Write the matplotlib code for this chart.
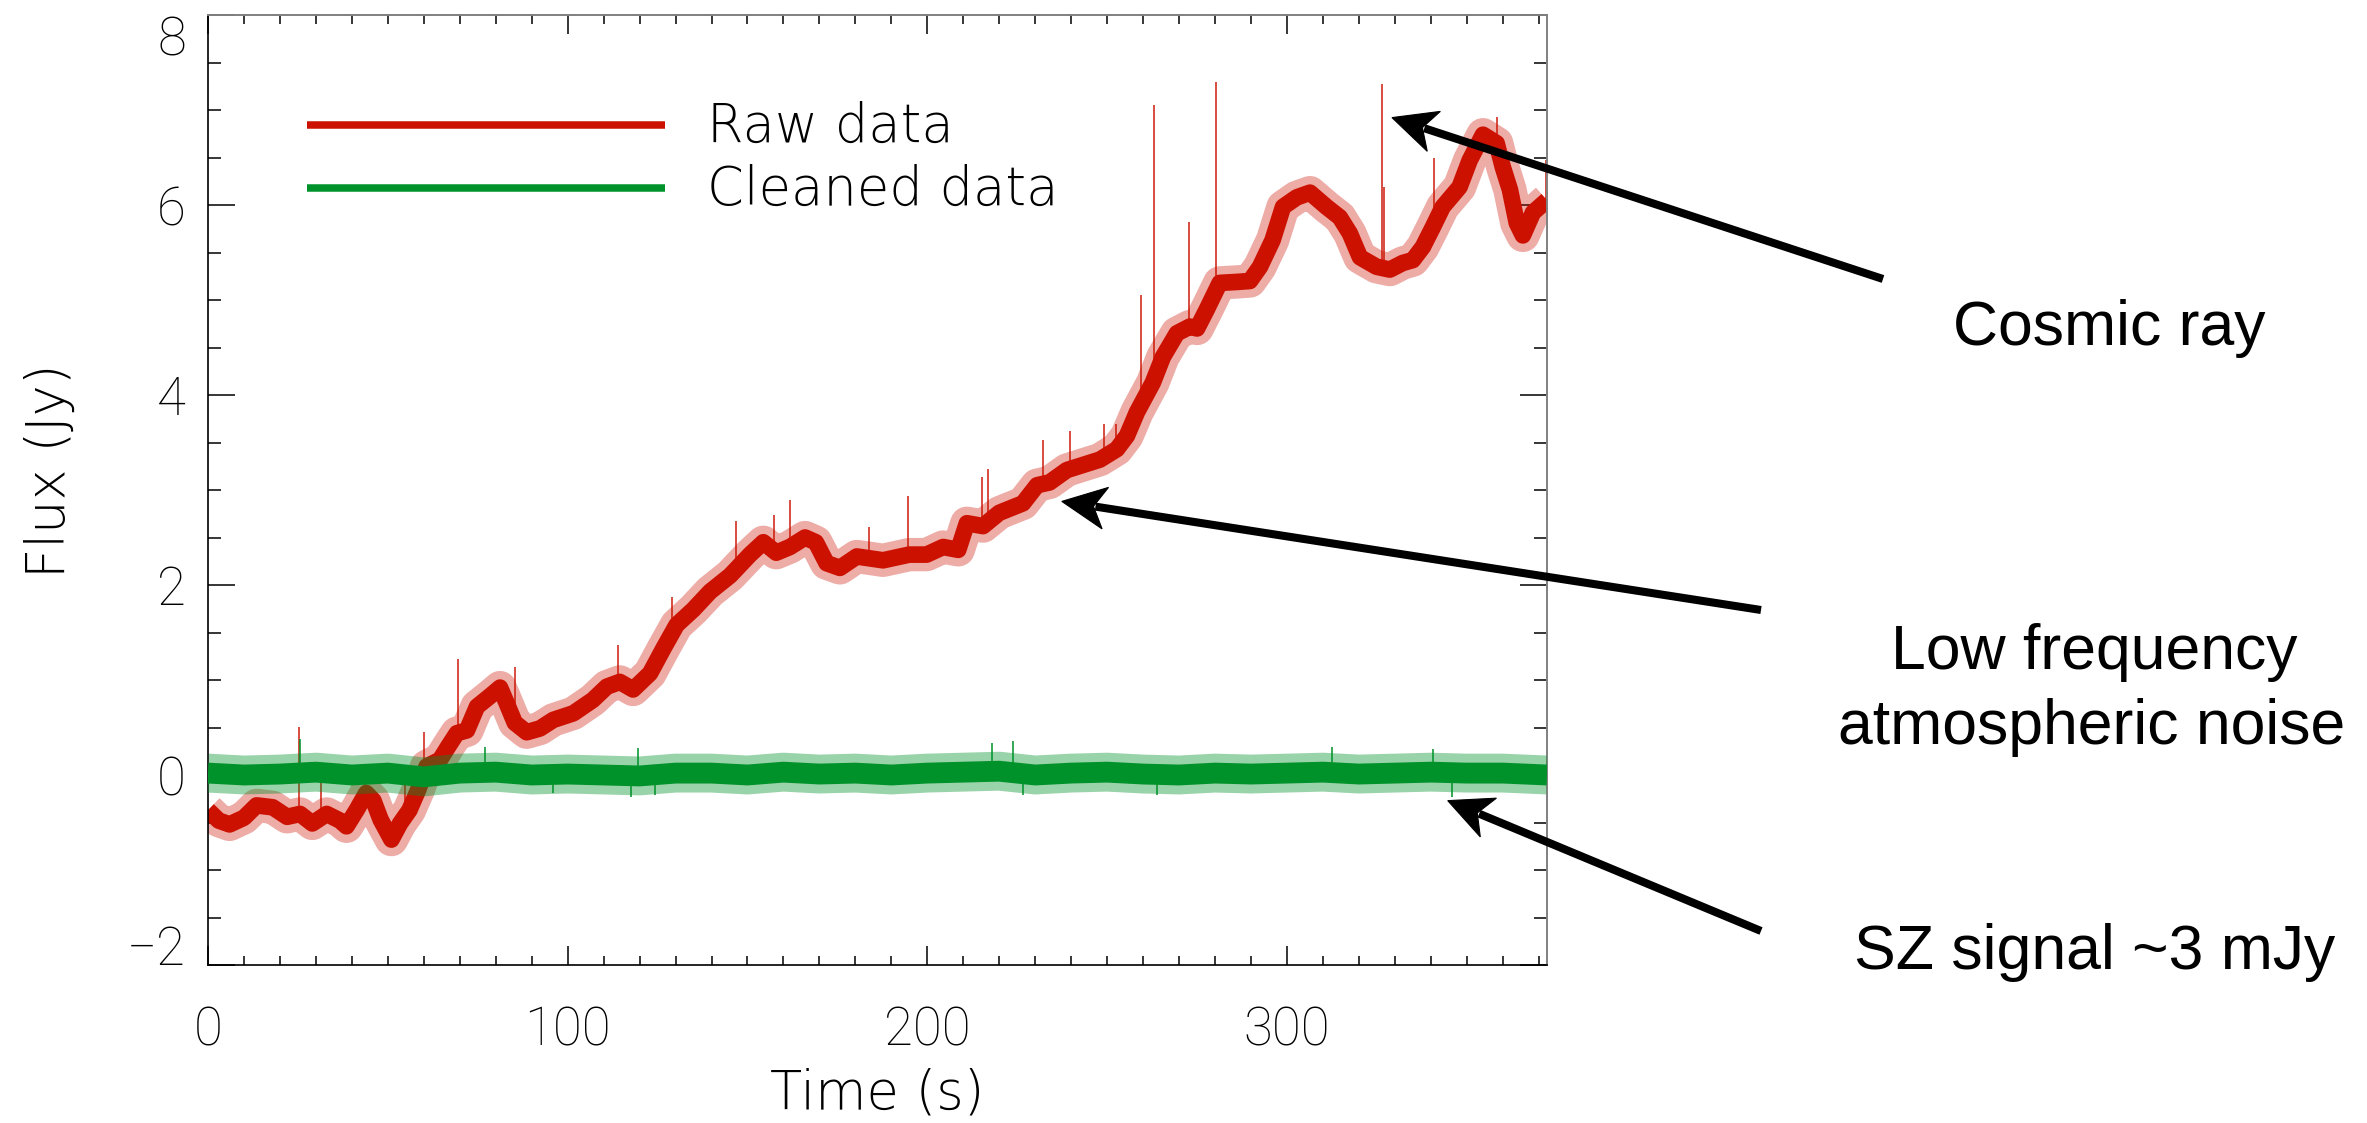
import numpy as np
import matplotlib
matplotlib.use("Agg")
import matplotlib.pyplot as plt
from matplotlib.ticker import FixedLocator, MultipleLocator
from matplotlib.patches import Polygon
from matplotlib.lines import Line2D
from matplotlib.transforms import IdentityTransform

# ---------------- data ----------------
raw_time = [0, 3, 6, 10, 13.5, 18, 22, 25.6, 29, 33, 36.7, 38.5, 41.3, 44, 46, 48, 51,
            53.4, 56, 58.4, 60.8, 64.5, 66.8, 69.2, 72, 74.8, 78.4, 81.2, 83, 85.3, 88.6,
            92.3, 96, 101.6, 107, 110.9, 114.5, 118.2, 122.9, 126.6, 130.3, 134.9, 139.6,
            145.2, 150.7, 154.4, 158, 161.8, 166, 169, 172, 175.7, 180.4, 187.7, 195,
            199.8, 204.4, 208.6, 211, 215.5, 220, 226.6, 230.5, 234, 238.8, 248, 252.7,
            255.5, 258.3, 262.7, 265.5, 269.4, 273, 275, 277.7, 281.3, 286, 289.7, 292.5,
            296, 298.9, 302.7, 306.4, 311, 314.7, 317.5, 320.3, 324.9, 328.6, 332.2, 335,
            337.8, 340.6, 343.3, 348, 350.8, 354.5, 358.3, 360, 362, 363.9, 365.6, 368.4,
            372.3]
raw_flux = [-0.37, -0.48, -0.52, -0.45, -0.32, -0.34, -0.44, -0.41, -0.51, -0.41, -0.48,
            -0.54, -0.37, -0.19, -0.27, -0.47, -0.68, -0.51, -0.37, -0.16, 0.09, 0.16,
            0.30, 0.44, 0.47, 0.72, 0.83, 0.92, 0.76, 0.55, 0.45, 0.49, 0.58, 0.65, 0.79,
            0.93, 0.98, 0.90, 1.07, 1.33, 1.58, 1.74, 1.93, 2.10, 2.32, 2.45, 2.34, 2.40,
            2.50, 2.45, 2.23, 2.18, 2.30, 2.26, 2.32, 2.32, 2.40, 2.37, 2.65, 2.62, 2.76,
            2.86, 3.05, 3.08, 3.21, 3.32, 3.43, 3.57, 3.82, 4.13, 4.40, 4.65, 4.72, 4.70,
            4.90, 5.18, 5.19, 5.20, 5.35, 5.63, 5.98, 6.08, 6.13, 5.98, 5.87, 5.70, 5.45,
            5.35, 5.32, 5.39, 5.42, 5.56, 5.77, 5.98, 6.19, 6.47, 6.74, 6.65, 6.40, 6.16,
            5.81, 5.68, 5.92, 6.05]

# cosmic-ray spikes on the raw timeline
raw_spike_time = [25.2, 31.3, 43.6, 54.7, 60.1, 69.6, 85.3, 114.1, 129.0, 146.8, 157.4,
                  161.8, 183.8, 194.6, 215.2, 216.8, 232.1, 239.7, 249.0, 252.4, 259.4,
                  263.0, 272.7, 280.2, 326.4, 327.0, 341.0, 358.3, 372.0]
raw_spike_peak = [0.51, 0.13, -0.05, -0.07, 0.45, 1.22, 1.14, 1.37, 1.87, 2.67, 2.74,
                  2.89, 2.61, 2.94, 3.14, 3.22, 3.53, 3.62, 3.70, 3.70, 5.05, 7.05, 5.82,
                  7.29, 7.27, 6.19, 6.49, 6.93, 6.47]

clean_time = [0, 10, 20, 30, 40, 50, 60, 70, 80, 90, 100, 110, 120, 130, 140, 150, 160,
              170, 180, 190, 200, 210, 220, 230, 240, 250, 260, 270, 280, 290, 300, 310,
              320, 330, 340, 350, 360, 372.3]
clean_flux = [0.02, 0.00, 0.01, 0.03, 0.00, 0.02, -0.02, 0.02, 0.03, 0.00, 0.01, 0.00,
              -0.01, 0.02, 0.02, 0.00, 0.03, 0.01, 0.02, 0.00, 0.02, 0.03, 0.04, 0.00,
              0.02, 0.03, 0.01, 0.00, 0.02, 0.01, 0.02, 0.03, 0.01, 0.02, 0.03, 0.02,
              0.02, 0.00]
clean_spike_time = [25.6, 76.9, 96.0, 117.5, 119.5, 124.4, 218.0, 223.8, 226.6, 264.0,
                    312.5, 340.6, 346.0]
clean_spike_peak = [0.38, 0.29, -0.19, -0.23, 0.28, -0.21, 0.34, 0.36, -0.21, -0.21,
                    0.29, 0.27, -0.23]

series_labels = ["Raw data", "Cleaned data"]
x_ticks = [0, 100, 200, 300]
y_ticks = [-2, 0, 2, 4, 6, 8]
notes = ["Cosmic ray", "Low frequency", "atmospheric noise", "SZ signal ~3 mJy"]
# arrow tips in data coordinates (time, flux)
arrow_tip_time = [329.2, 237.4, 344.7]
arrow_tip_flux = [6.92, 2.88, -0.27]

# ---------------- style ----------------
RED = "#CC1100"
GREEN = "#00922A"
DIGITS = dict(family=["Roboto", "DejaVu Sans"], weight="light")
WORDS = dict(family=["DejaVu Sans"], weight=200)
SANS = dict(family=["Liberation Sans", "Arimo", "DejaVu Sans"])
W, H = 2367, 1123
DPI = 100

fig = plt.figure(figsize=(W / DPI, H / DPI), dpi=DPI, facecolor="white")
ax = fig.add_axes([208 / W, 1 - 965 / H, (1547 - 208) / W, (965 - 15) / H])

# raw data: fuzzy envelope + dense core + spikes
ax.plot(raw_time, raw_flux, color=RED, lw=24, alpha=0.35, solid_joinstyle="round",
        solid_capstyle="butt", zorder=2)
ax.plot(raw_time, raw_flux, color=RED, lw=12, solid_joinstyle="round",
        solid_capstyle="butt", zorder=2)
raw_base = np.interp(raw_spike_time, raw_time, raw_flux)
ax.vlines(raw_spike_time, raw_base, raw_spike_peak, color=RED, lw=1.4, alpha=0.75,
          zorder=2)

# cleaned data
ax.plot(clean_time, clean_flux, color=GREEN, lw=28, alpha=0.4, solid_capstyle="butt",
        zorder=3)
ax.plot(clean_time, clean_flux, color=GREEN, lw=15, solid_capstyle="butt", zorder=3)
clean_base = np.interp(clean_spike_time, clean_time, clean_flux)
ax.vlines(clean_spike_time, clean_base, clean_spike_peak, color=GREEN, lw=1.4,
          alpha=0.8, zorder=3)

# legend drawn IDL-style
for lab, col, yy in zip(series_labels, [RED, GREEN], [0.884, 0.818]):
    ax.plot([0.074, 0.341], [yy, yy], transform=ax.transAxes, color=col, lw=5.4,
            solid_capstyle="butt", zorder=4)
ax.text(0.373, 0.8667, series_labels[0], transform=ax.transAxes, fontsize=38,
        va="baseline", ha="left", **WORDS)
ax.text(0.373, 0.800, series_labels[1], transform=ax.transAxes, fontsize=38,
        va="baseline", ha="left", **WORDS)

# axes
ax.set_xlim(0, 372.3)
ax.set_ylim(-2, 8)
ax.xaxis.set_major_locator(FixedLocator(x_ticks))
ax.xaxis.set_minor_locator(MultipleLocator(10))
ax.yaxis.set_major_locator(FixedLocator(y_ticks))
ax.yaxis.set_minor_locator(MultipleLocator(0.5))
ax.set_xticklabels([str(v) for v in x_ticks], fontsize=38, **DIGITS)
ylabels = ax.set_yticklabels([str(v).replace("-", "\u2212") for v in y_ticks],
                             fontsize=38, **DIGITS)
ylabels[0].set_va("baseline")   # bottom label kept inside the axis range (IDL)
ylabels[-1].set_va("top")       # top label kept inside the axis range (IDL)
ax.tick_params(axis="x", which="major", direction="in", length=13.7, width=1.1,
               top=True, bottom=True, pad=29, color="black")
ax.tick_params(axis="x", which="minor", direction="in", length=6.5, width=1.1,
               top=True, bottom=True)
ax.tick_params(axis="y", which="major", direction="in", length=19.4, width=1.1,
               left=True, right=True, pad=16)
ax.tick_params(axis="y", which="minor", direction="in", length=9.4, width=1.1,
               left=True, right=True)
for t in ax.xaxis.get_major_ticks() + ax.xaxis.get_minor_ticks():
    t.tick2line.set_color("#808080")
for t in ax.yaxis.get_major_ticks() + ax.yaxis.get_minor_ticks():
    t.tick2line.set_color("#808080")
for side in ["left", "bottom"]:
    ax.spines[side].set_linewidth(1.2)
    ax.spines[side].set_color("black")
for side in ["top", "right"]:
    ax.spines[side].set_linewidth(1.4)
    ax.spines[side].set_color("#808080")

ax.set_xlabel("Time (s)", fontsize=38, **WORDS)
ax.xaxis.set_label_coords(0.5, -0.108)
ax.set_ylabel("Flux (Jy)", fontsize=38, **WORDS)
ax.yaxis.set_label_coords(-0.098, 0.52)

# annotations
note_pos = [(2109, 345), (2094, 669), (2092, 744), (2095, 969)]
for txt, (px, py) in zip(notes, note_pos):
    fig.text(px / W, 1 - py / H, txt, ha="center", va="baseline", fontsize=45, **SANS)

# arrows with notched (stealth) heads, drawn in pixel space
arrow_tails = [(1883, 279), (1761, 610), (1761, 931)]
HEAD_LEN, HEAD_HALF, NOTCH = 44.0, 21.0, 32.0
for (tx, ty), xt, yt in zip(arrow_tails, arrow_tip_time, arrow_tip_flux):
    tip = ax.transData.transform((xt, yt))
    tail = np.array([tx, H - ty], dtype=float)
    u = (tail - tip) / np.hypot(*(tail - tip))
    n = np.array([-u[1], u[0]])
    notch = tip + NOTCH * u
    head = [tip, tip + HEAD_LEN * u + HEAD_HALF * n, notch,
            tip + HEAD_LEN * u - HEAD_HALF * n]
    fig.add_artist(Line2D([tail[0], notch[0] + 2 * u[0]], [tail[1], notch[1] + 2 * u[1]],
                          transform=IdentityTransform(), color="black", lw=5.8,
                          solid_capstyle="butt"))
    fig.add_artist(Polygon(head, closed=True, transform=IdentityTransform(),
                           facecolor="black", edgecolor="black", lw=0.8))

fig.savefig("out.png", dpi=DPI, facecolor="white")
